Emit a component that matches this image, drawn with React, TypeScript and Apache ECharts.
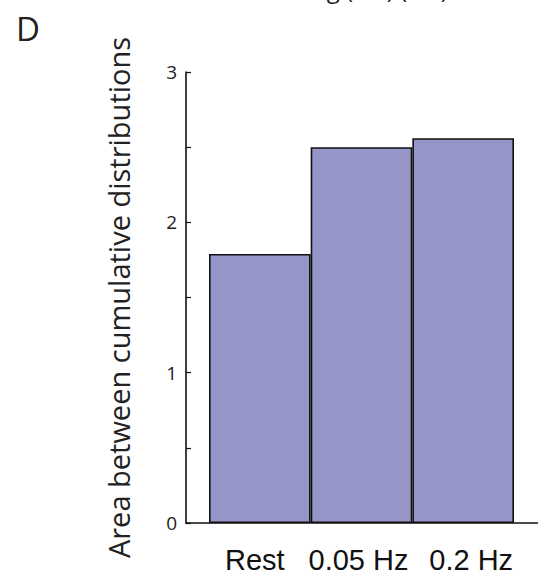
import React, { useEffect, useRef } from "react";
import * as echarts from "echarts";

const categories = ["Rest", "0.05 Hz", "0.2 Hz"];
const values = [1.79, 2.5, 2.56];
const yTicks = [0, 1, 2, 3];
const panelLabel = "D";
const yName = "Area between cumulative distributions";
const topCutText = "ng (ms) (ms)";

const labelStyleKeys = ["a", "b", "c"];

export default function App() {
  const ref = useRef<HTMLDivElement>(null);
  useEffect(() => {
    const chart = echarts.init(ref.current!, null, { renderer: "svg" });
    const top = 72;
    const bottom = 57;
    const baseLabel = {
      fontFamily: "Liberation Sans, Arial, sans-serif",
      fontSize: 29,
      color: "#111",
    };
    chart.setOption({
      animation: false,
      backgroundColor: "#ffffff",
      grid: [
        { left: 186, right: -10, top, bottom },
        { left: 209, right: 24, top, bottom },
      ],
      xAxis: [
        {
          type: "value",
          gridIndex: 0,
          min: 0,
          max: 1,
          axisLine: { show: true, lineStyle: { color: "#111", width: 1.6 } },
          axisTick: { show: false },
          axisLabel: { show: false },
          splitLine: { show: false },
        },
        {
          type: "category",
          gridIndex: 1,
          data: categories,
          axisLine: { show: false },
          axisTick: { show: false },
          axisLabel: {
            interval: 0,
            hideOverlap: false,
            margin: 22,
            ...baseLabel,
            formatter: (v: string, i: number) => `{${labelStyleKeys[i]}|${v}}`,
            rich: {
              a: { ...baseLabel, padding: [0, 10, 0, 0] },
              b: { ...baseLabel, padding: [0, 6, 0, 0] },
              c: { ...baseLabel, padding: [0, 0, 0, 16] },
            },
          },
          splitLine: { show: false },
        },
      ],
      yAxis: [
        {
          type: "value",
          gridIndex: 0,
          min: 0,
          max: 3,
          interval: 0.5,
          name: yName,
          nameLocation: "middle",
          nameRotate: 90,
          nameGap: 53,
          nameTextStyle: {
            fontFamily: "Open Sans",
            fontSize: 29,
            color: "#222",
          },
          axisLine: { show: true, lineStyle: { color: "#111", width: 1.6 } },
          axisTick: { show: true, inside: true, length: 5, lineStyle: { color: "#111", width: 1.2 } },
          axisLabel: {
            margin: 9,
            fontFamily: "Open Sans",
            fontSize: 19,
            color: "#222",
            formatter: (v: number) => (yTicks.includes(v) ? String(v) : ""),
          },
          splitLine: { show: false },
        },
        {
          type: "value",
          gridIndex: 1,
          min: 0,
          max: 3,
          interval: 0.5,
          show: false,
        },
      ],
      series: [
        {
          type: "bar",
          xAxisIndex: 1,
          yAxisIndex: 1,
          data: values,
          barCategoryGap: "0%",
          itemStyle: { color: "#9595C8", borderColor: "#111", borderWidth: 1.6 },
        },
      ],
      graphic: [
        {
          type: "text",
          left: 16,
          top: 12,
          style: { text: panelLabel, fontFamily: "Open Sans", fontSize: 33, fill: "#222" },
        },
        {
          type: "text",
          left: 312,
          top: -24,
          style: { text: topCutText, fontFamily: "Open Sans", fontSize: 24, fill: "#222" },
        },
      ],
    });
    return () => chart.dispose();
  }, []);
  return <div ref={ref} style={{ width: 538, height: 580, position: "absolute", left: 0, top: 0 }} />;
}
